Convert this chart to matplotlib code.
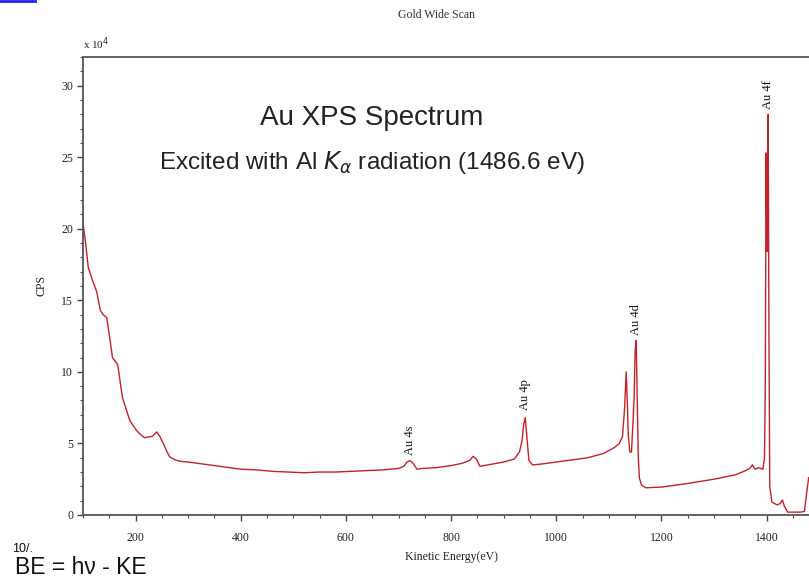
import numpy as np
import matplotlib
matplotlib.use("Agg")
import matplotlib.pyplot as plt
from matplotlib.ticker import MultipleLocator
from matplotlib.lines import Line2D

# spectrum: kinetic energy (eV) and counts (x 1e4 CPS)
ke = [100, 105, 110, 118, 126, 133, 138, 145, 150, 156, 166, 175, 182, 189, 196,
      202, 210, 217, 225, 232, 240, 246, 250, 255, 260, 265, 275, 285, 300, 320,
      340, 360, 380, 400, 430, 460, 490, 520, 550, 580, 610, 640, 670, 700, 710,
      716, 722, 728, 735, 745, 770, 800, 820, 835, 842, 848, 855, 870, 900, 920,
      930, 935, 938, 941, 944, 948, 955, 970, 1000, 1030, 1060, 1090, 1110, 1120,
      1126, 1130, 1133, 1135, 1137, 1140, 1143, 1146, 1148, 1150, 1152, 1154, 1156,
      1158, 1162, 1170, 1200, 1250, 1300, 1340, 1360, 1368, 1373, 1378, 1385, 1393,
      1396, 1397.5, 1399, 1400.5, 1401.5, 1403, 1404.5, 1406, 1410, 1420, 1426,
      1430, 1434, 1440, 1450, 1465, 1472, 1476, 1480]
cps = [20.4, 19.0, 17.3, 16.4, 15.6, 14.3, 14.0, 13.8, 12.6, 11.0, 10.5, 8.2, 7.4, 6.6, 6.2,
       5.9, 5.6, 5.4, 5.45, 5.5, 5.8, 5.5, 5.2, 4.8, 4.4, 4.05, 3.85, 3.75, 3.7, 3.6,
       3.5, 3.4, 3.3, 3.2, 3.15, 3.05, 3.0, 2.95, 3.0, 3.0, 3.05, 3.1, 3.15, 3.25, 3.4,
       3.7, 3.8, 3.6, 3.2, 3.25, 3.3, 3.45, 3.6, 3.8, 4.1, 3.9, 3.4, 3.5, 3.7, 3.9,
       4.4, 5.2, 6.3, 6.8, 5.5, 3.8, 3.5, 3.55, 3.7, 3.85, 4.0, 4.3, 4.7, 5.0,
       5.5, 7.5, 10.0, 8.0, 5.5, 4.4, 4.4, 6.5, 8.2, 11.5, 12.2, 8.0, 4.0,
       2.6, 2.1, 1.9, 1.95, 2.2, 2.5, 2.8, 3.1, 3.25, 3.5, 3.2, 3.3, 3.2,
       4.0, 9.0, 25.3, 18.4, 20.0, 28.0, 12.0, 2.0, 0.9, 0.7, 0.8,
       1.05, 0.6, 0.2, 0.2, 0.2, 0.25, 1.5, 2.6]

peak_names = ["Au 4s", "Au 4p", "Au 4d", "Au 4f"]
peak_ke = [722, 941, 1152, 1403]
peak_label_y = [4.2, 7.3, 12.6, 28.4]

serif = "Liberation Serif"
sans = "Liberation Sans"

fig = plt.figure(figsize=(8.09, 5.87), dpi=100)
ax = fig.add_axes([0.1026, 0.1227, 0.910, 0.7802])

ax.plot(ke, cps, color="#c8202a", lw=1.0)

ax.set_xlim(100, 1500)
ax.set_ylim(0, 32)
ax.xaxis.set_major_locator(MultipleLocator(200))
ax.xaxis.set_minor_locator(MultipleLocator(50))
ax.yaxis.set_major_locator(MultipleLocator(5))
ax.yaxis.set_minor_locator(MultipleLocator(1))
ax.tick_params(which="major", direction="out", length=4, width=1, color="#444444",
               labelsize=8.5)
ax.tick_params(axis="x", which="major", pad=8)
ax.tick_params(axis="y", which="major", pad=3)
ax.tick_params(which="minor", direction="out", length=2, width=0.8, color="#444444")
for lab in ax.get_xticklabels() + ax.get_yticklabels():
    lab.set_fontfamily(serif)
    lab.set_color("#222222")
for s in ["left", "bottom", "top"]:
    ax.spines[s].set_color("#555555")
    ax.spines[s].set_linewidth(1.3)
ax.spines["right"].set_visible(False)

ax.set_xlabel("Kinetic Energy(eV)", fontsize=8.5, family=serif, color="#222222", labelpad=5)
ax.set_ylabel("CPS", fontsize=8.5, family=serif, color="#222222", labelpad=10)
ax.text(0.0, 1.01, r"x 10$^4$", transform=ax.transAxes, fontsize=8, family=serif,
        color="#222222", ha="left", va="bottom")

for name, x, y in zip(peak_names, peak_ke, peak_label_y):
    ax.text(x, y, name, rotation=90, ha="center", va="bottom", fontsize=9,
            family=serif, color="#111111")

fig.text(372 / 809, 1 - 118 / 587, "Au XPS Spectrum", ha="center", va="center",
         fontsize=20, family=sans, color="#222222")
fig.text(372 / 809, 1 - 163 / 587, r"Excited with Al $K_\alpha$ radiation (1486.6 eV)",
         ha="center", va="center", fontsize=17.5, family=sans, color="#222222")

fig.text(437 / 809, 1 - 15 / 587, "Gold Wide Scan", ha="center", va="center",
         fontsize=8.5, family=serif, color="#333333")
fig.text(12 / 809, 1 - 549 / 587, "10/.", ha="left", va="center", fontsize=9,
         family=sans, color="#111111")
fig.text(15 / 809, 1 - 567 / 587, "BE = h\u03bd - KE", ha="left", va="center",
         fontsize=16.5, family=sans, color="#111111")
fig.add_artist(Line2D([0, 35 / 809], [1 - 1 / 587, 1 - 1 / 587], color="#2222ff", lw=2))

fig.savefig("out.png", dpi=100)
